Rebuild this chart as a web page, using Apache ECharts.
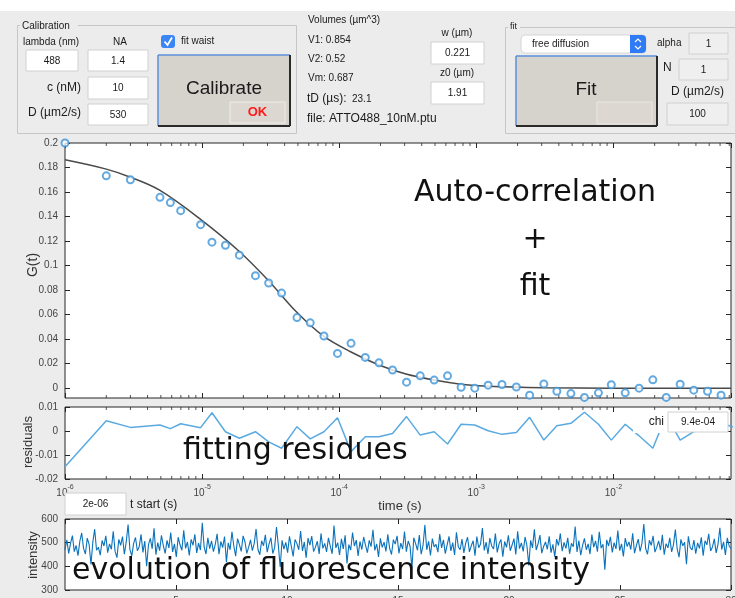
<!DOCTYPE html>
<html><head><meta charset="utf-8">
<script src="https://cdn.jsdelivr.net/npm/echarts@6/dist/echarts.min.js"></script>
<style>html,body{margin:0;padding:0;background:#ececec;overflow:hidden}#c{width:735px;height:598px}</style>
</head><body><div id="c"></div>
<script>
// ---------- data ----------
const gLag = [1e-6,2e-6,3e-6,4.93e-6,5.87e-6,6.98e-6,9.75e-6,1.18e-5,1.48e-5,1.87e-5,2.45e-5,3.06e-5,3.8e-5,4.92e-5,6.15e-5,7.74e-5,9.72e-5,1.22e-4,1.55e-4,1.95e-4,2.45e-4,3.1e-4,3.9e-4,4.93e-4,6.17e-4,7.75e-4,9.75e-4,1.22e-3,1.54e-3,1.96e-3,2.45e-3,3.11e-3,3.87e-3,4.9e-3,6.15e-3,7.78e-3,9.66e-3,1.22e-2,1.54e-2,1.94e-2,2.43e-2,3.07e-2,3.86e-2,4.86e-2,6.1e-2];
const gData = [0.2,0.1732,0.170,0.1557,0.1514,0.1448,0.1334,0.1191,0.1166,0.1085,0.0918,0.0858,0.0776,0.0576,0.0533,0.0426,0.0284,0.0366,0.0251,0.0207,0.0148,0.0049,0.0101,0.0066,0.0101,0.0008,0.0,0.0025,0.003,0.001,-0.0057,0.0035,-0.0025,-0.0044,-0.0075,-0.0038,0.0028,-0.0038,0.0,0.0068,-0.0075,0.0033,-0.0016,-0.0025,-0.0057];
const fitLag = [1e-6,2e-6,3e-6,4.9e-6,9.75e-6,1.87e-5,3.1e-5,4.87e-5,7.65e-5,1.22e-4,1.95e-4,3.07e-4,4.91e-4,7.71e-4,1.23e-3,3.1e-3,9.66e-3,7.21e-2];
const fitData = [0.1863,0.1787,0.1721,0.1615,0.1377,0.1115,0.0869,0.0623,0.0426,0.0295,0.0189,0.0115,0.0066,0.0033,0.0016,0.0004,0.0,0.0];
const residLag = gLag.concat([7.68e-2]);
const residData = [-0.0149,0.0043,0.0015,0.0025,0.001,0.003,0.0014,0.0076,-0.0003,-0.003,-0.0003,-0.0045,-0.0072,0.0018,-0.0033,-0.0003,0.0055,-0.0086,-0.0024,-0.0024,-0.001,0.006,-0.0017,-0.0003,-0.0054,0.0028,0.0025,0.0001,-0.0014,-0.0006,0.0057,-0.0038,0.0022,0.0032,0.0078,0.0028,-0.0038,0.0028,-0.002,-0.0072,0.0065,-0.0038,-0.0003,0.0018,0.0032,0.0015];
const tStart = 2e-6;
const intensity = [
470,512,455,498,530,462,488,445,506,541,476,452,519,493,408,502,557,468,481,447,
509,486,529,458,495,472,548,463,437,514,489,526,451,503,577,471,444,497,522,466,
483,535,459,507,401,492,518,474,561,449,500,466,531,487,455,510,478,543,461,495,
440,523,491,468,552,476,503,446,514,489,535,457,498,469,584,482,452,520,475,508,
462,493,537,451,505,479,526,418,499,470,546,486,443,517,492,463,529,504,455,481,
512,466,497,558,472,449,508,487,533,460,495,521,454,479,566,488,397,510,473,501,
458,527,484,442,513,496,470,549,465,503,436,519,490,528,462,481,506,452,539,476,
497,461,520,485,453,572,478,500,448,516,474,531,412,492,469,543,486,511,444,505,
471,524,489,458,510,483,554,467,495,440,518,480,502,463,535,476,450,513,494,529,
455,498,473,547,462,507,485,391,521,496,468,532,451,489,575,470,506,446,517,482,
493,460,536,478,512,454,491,527,465,500,448,544,483,470,515,457,498,523,461,487,
508,445,526,479,494,562,467,502,452,519,486,473,538,459,496,513,441,505,480,531,
466,490,517,450,548,475,499,463,524,487,404,510,478,556,469,495,532,456,484,503,
472,527,458,493,441,515,488,539,464,501,476,520,453,497,483,568,461,509,447,489,
518,470,495,452,534,481,507,462,546,477,493,386,512,486,525,459,500,474,551,466,
495,442,519,484,503,471,540,456,488,515,463,498,579,475,451,510,489,529,460,481,
507,468,533,449,496,478,520,461,492,555,473,439,514,487,502,409,527,480,469,511,
454,499,476,523,445,508,491,537,465,482,516,457,494,563,471,503,448,520,486,474];
const intensityDuration = 30; // seconds
const gTicks = [0,0.02,0.04,0.06,0.08,0.1,0.12,0.14,0.16,0.18,0.2];
const logMinor = [2e-6,3e-6,4e-6,5e-6,6e-6,7e-6,8e-6,9e-6,2e-5,3e-5,4e-5,5e-5,6e-5,7e-5,8e-5,9e-5,2e-4,3e-4,4e-4,5e-4,6e-4,7e-4,8e-4,9e-4,2e-3,3e-3,4e-3,5e-3,6e-3,7e-3,8e-3,9e-3,2e-2,3e-2,4e-2,5e-2,6e-2,7e-2];

// ---------- chart ----------
const FONT = '"Liberation Sans", Arial, sans-serif';
const BIG = '"DejaVu Sans", Verdana, sans-serif';
const AX = '#262626', LBL = '#444';
const LMIN = 1e-6, LMAX = 0.0721;
const GMIN = -0.008, GMAX = 0.2;

const chart = echarts.init(document.getElementById('c'), null, {renderer:'canvas'});

function logLabel(v){ const e = Math.round(Math.log10(v)); return '{b|10}{s|' + e + '}'; }
const logRich = { b:{fontSize:10, color:LBL, fontFamily:FONT, lineHeight:14, verticalAlign:'bottom'},
                  s:{fontSize:7, color:LBL, fontFamily:FONT, lineHeight:14, verticalAlign:'top', padding:[0,0,6,0]} };
function tick(){ return {show:true, inside:true, length:5, lineStyle:{color:AX, width:1}}; }
function noLine(){ return {show:false, onZero:false}; }

const grids = [
  {left:65, top:143, width:666, height:255},
  {left:65, top:407, width:666, height:72},
  {left:65, top:519, width:666, height:71}
].map(g => Object.assign(g, {show:true, backgroundColor:'#fff', borderColor:AX, borderWidth:1, containLabel:false, outerBoundsMode:'none'}));

function logX(gi, pos, labels){
  return {gridIndex:gi, type:'log', logBase:10, min:LMIN, max:LMAX, position:pos,
    axisLine:noLine(), splitLine:{show:false}, axisTick:tick(), minorTick:{show:false},
    axisLabel:{show:labels, formatter:logLabel, rich:logRich, margin:5, showMaxLabel:false, showMinLabel:true}};
}

const xAxes = [
  logX(0,'bottom',false), logX(0,'top',false),
  logX(1,'bottom',true), logX(1,'top',false),
  {gridIndex:2, type:'value', min:0, max:30, interval:5, position:'bottom', axisLine:noLine(), splitLine:{show:false}, axisTick:tick(),
   axisLabel:{show:true, color:LBL, fontSize:10, fontFamily:FONT, margin:6, showMinLabel:false}},
  {gridIndex:2, type:'value', min:0, max:30, interval:5, position:'top', axisLine:noLine(), splitLine:{show:false}, axisTick:tick(), axisLabel:{show:false}}
];
const yAxes = [
  {gridIndex:0, type:'value', min:GMIN, max:GMAX, position:'left', axisLine:noLine(), splitLine:{show:false},
   axisTick:Object.assign(tick(), {customValues:gTicks}),
   axisLabel:{customValues:gTicks, color:LBL, fontSize:10, fontFamily:FONT, margin:7, formatter:v => String(+(+v).toFixed(2))}},
  {gridIndex:0, type:'value', min:GMIN, max:GMAX, position:'right', axisLine:noLine(), splitLine:{show:false},
   axisTick:Object.assign(tick(), {customValues:gTicks}), axisLabel:{show:false}},
  {gridIndex:1, type:'value', min:-0.02, max:0.01, interval:0.01, position:'left', axisLine:noLine(), splitLine:{show:false}, axisTick:tick(),
   axisLabel:{color:LBL, fontSize:10, fontFamily:FONT, margin:7, formatter:v => String(+(+v).toFixed(2))}},
  {gridIndex:1, type:'value', min:-0.02, max:0.01, interval:0.01, position:'right', axisLine:noLine(), splitLine:{show:false}, axisTick:tick(), axisLabel:{show:false}},
  {gridIndex:2, type:'value', min:300, max:600, interval:100, position:'left', axisLine:noLine(), splitLine:{show:false}, axisTick:tick(),
   axisLabel:{color:LBL, fontSize:10, fontFamily:FONT, margin:7}},
  {gridIndex:2, type:'value', min:300, max:600, interval:100, position:'right', axisLine:noLine(), splitLine:{show:false}, axisTick:tick(), axisLabel:{show:false}}
];

function minorSeries(xi, yi, yv, off){
  return {type:'scatter', xAxisIndex:xi, yAxisIndex:yi, silent:true, z:3, symbol:'rect', symbolSize:[1,3], symbolOffset:[0,off],
    itemStyle:{color:AX}, data: logMinor.map(t => [t, yv]), animation:false};
}

const series = [
  {type:'line', name:'fit', xAxisIndex:0, yAxisIndex:0, data: fitLag.map((t,i)=>[t, fitData[i]]), smooth:0.35, showSymbol:false,
   lineStyle:{color:'#4a4a4a', width:1.5}, z:2},
  {type:'scatter', name:'G', xAxisIndex:0, yAxisIndex:0, data: gLag.map((t,i)=>[t, gData[i]]), symbol:'emptyCircle', symbolSize:7,
   itemStyle:{color:'#3d95d8', borderWidth:1.3}, z:4,
   markLine:{silent:true, symbol:'none', label:{show:false}, lineStyle:{color:'#222', width:1.5, type:'solid'}, data:[{xAxis:tStart}]}},
  {type:'line', name:'residuals', xAxisIndex:2, yAxisIndex:2, data: residLag.map((t,i)=>[t, residData[i]]), showSymbol:false,
   lineStyle:{color:'#5aaae2', width:1.5}, z:2},
  {type:'line', name:'intensity', xAxisIndex:4, yAxisIndex:4, sampling:'none',
   data: intensity.map((v,i)=>[i*intensityDuration/(intensity.length-1), v]), showSymbol:false,
   lineStyle:{color:'#0a72bb', width:1.1}, z:2},
  minorSeries(0,0,GMIN,-1.5), minorSeries(1,1,GMAX,1.5),
  minorSeries(2,2,-0.02,-1.5), minorSeries(3,3,0.01,1.5)
];

// ---------- GUI decorations ----------
function T(x,y,text,o){ o=o||{}; return {type:'text', x:x, y:y, z:100, rotation:o.rot||0, silent:true,
  style:{text:text, fill:o.fill||'#1a1a1a', font:(o.weight||'normal')+' '+(o.size||10)+'px '+(o.family||FONT), align:o.align||'left', verticalAlign:'middle'}}; }
function R(x,y,w,h,fill,stroke,o){ o=o||{}; return {type:'rect', z:o.z||99, silent:true, shape:{x:x,y:y,width:w,height:h,r:o.r||0},
  style:{fill:fill, stroke:stroke||null, lineWidth:o.lw||1}}; }
function L(x1,y1,x2,y2,color,w){ return {type:'line', z:100, silent:true, shape:{x1:x1,y1:y1,x2:x2,y2:y2}, style:{stroke:color, lineWidth:w||1}}; }
function box(x,y,w,h,text,o){ o=o||{}; return [R(x,y,w,h,o.fill||'#fff','#d0d0d0'), T(x+w/2,y+h/2+0.5,text,{align:'center',size:o.size||10})]; }

const G = [].concat(
  [R(0,0,735,11,'#fff',null,{z:98})],
  // Calibration panel
  [R(17.5,25.5,279,108,null,'#c6c6c6'), R(20,20,58,10,'#ececec'), T(22,26,'Calibration',{size:10})],
  [T(23,42,'lambda (nm)',{size:10}), T(120,42,'NA',{size:10,align:'center'})],
  box(26,50,52,21,'488'), box(88,50,60,21,'1.4'),
  [T(81,88,'c (nM)',{size:12,align:'right'})], box(88,77,60,22,'10'),
  [T(81,113,'D (µm2/s)',{size:12,align:'right'})], box(88,104,60,21,'530'),
  [R(161,35,14,13,'#3a86f4',null,{r:3}),
   {type:'polyline', z:101, silent:true, shape:{points:[[164.5,41.5],[167.5,45],[172,37.5]]}, style:{stroke:'#fff', lineWidth:1.8, fill:null}},
   T(181,41,'fit waist',{size:10})],
  [R(158,55,132,71,'#d6d2cc'), L(158,55,290,55,'#5b8fd8',1.5), L(158,55,158,126,'#5b8fd8',1.5),
   L(290,55,290,126,'#2a2a2a',2), L(158,126,290,126,'#2a2a2a',2),
   T(224,89,'Calibrate',{size:19,align:'center'}) ],
  [R(230,102,55,21,'#dcd7d1','#f0eeea'), T(257.5,112,'OK',{size:13,weight:'bold',fill:'#ff1a1a',align:'center'})],
  // Volumes
  [T(308,20,'Volumes (µm^3)',{size:10}), T(308,40,'V1: 0.854',{size:10}), T(308,59,'V2: 0.52',{size:10}),
   T(308,78,'Vm: 0.687',{size:10}), T(307,99,'tD (µs):',{size:12}), T(352,99,'23.1',{size:10}),
   T(307,119,'file: ATTO488_10nM.ptu',{size:12}),
   T(457,33,'w (µm)',{size:10,align:'center'}), T(457,73,'z0 (µm)',{size:10,align:'center'})],
  box(431,42,53,22,'0.221'), box(431,82,53,22,'1.91'),
  // Fit panel
  [R(505.5,27.5,240,106,null,'#c6c6c6'), R(508,22,12,10,'#ececec'), T(510,27,'fit',{size:9})],
  [R(521,35,125,18,'#fff','#d6d6d6',{r:4}), R(630,35,16,18,'#2f7bf5',null,{r:[0,4,4,0]}),
   {type:'polyline', z:101, silent:true, shape:{points:[[635,42],[638,39],[641,42]]}, style:{stroke:'#fff', lineWidth:1.2, fill:null}},
   {type:'polyline', z:101, silent:true, shape:{points:[[635,46],[638,49],[641,46]]}, style:{stroke:'#fff', lineWidth:1.2, fill:null}},
   T(532,44,'free diffusion',{size:10}), T(657,43,'alpha',{size:10}), T(663,68,'N',{size:12}), T(671,92,'D (µm2/s)',{size:12})],
  box(689,33,39,21,'1',{fill:'#efefef'}), box(679,59,49,21,'1',{fill:'#efefef'}), box(667,103,61,22,'100',{fill:'#efefef'}),
  [R(516,56,141,70,'#d6d2cc'), L(516,56,657,56,'#5b8fd8',1.5), L(516,56,516,126,'#5b8fd8',1.5),
   L(657,56,657,126,'#2a2a2a',2), L(516,126,657,126,'#2a2a2a',2),
   T(586,90,'Fit',{size:19,align:'center'}), R(597,102,55,22,'#dcd7d1','#ebe8e4')],
  // axis names
  [T(33,265,'G(t)',{size:14,align:'center',rot:Math.PI/2,fill:'#333'}),
   T(28,442,'residuals',{size:13,align:'center',rot:Math.PI/2,fill:'#333'}),
   T(33,555,'intensity',{size:13,align:'center',rot:Math.PI/2,fill:'#333'}),
   T(400,506,'time (s)',{size:13,align:'center',fill:'#333'})],
  box(65,493,61,22,'2e-06'), [T(130,505,'t start (s)',{size:12,fill:'#222'})],
  // chi
  [R(633,412,35,21,'#fff'), T(664,422,'chi',{size:12,align:'right',fill:'#222'})], box(668,412,60,20,'9.4e-04'),
  // annotations
  [T(535,193,'Auto-correlation',{size:30,family:BIG,align:'center',fill:'#111'}),
   T(535,240,'+',{size:30,family:BIG,align:'center',fill:'#111'}),
   T(535,287,'fit',{size:30,family:BIG,align:'center',fill:'#111'}),
   T(183,451,'fitting residues',{size:30,family:BIG,fill:'#111'}),
   T(72,571,'evolution of fluorescence intensity',{size:30,family:BIG,fill:'#111'})]
);

chart.setOption({
  animation:false,
  backgroundColor:'#ececec',
  grid:grids, xAxis:xAxes, yAxis:yAxes, series:series,
  graphic:{elements:G}
});
</script></body></html>
